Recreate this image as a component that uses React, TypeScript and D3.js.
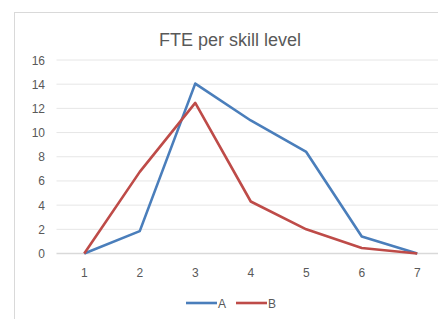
import React, { useEffect, useRef } from 'react';
import * as d3 from 'd3';

const levels = ['1', '2', '3', '4', '5', '6', '7'];
const seriesA = [0, 1.85, 14.05, 11, 8.4, 1.4, 0];
const seriesB = [0, 6.75, 12.45, 4.3, 2.0, 0.45, 0];
const yTicks = [0, 2, 4, 6, 8, 10, 12, 14, 16];
const seriesNames = ['A', 'B'];
const colors = ['#4a7ebb', '#be4b48'];

const W = 438;
const H = 319;

const App = () => {
  const ref = useRef<SVGSVGElement>(null);

  useEffect(() => {
    const svg = d3.select(ref.current);
    svg.selectAll('*').remove();

    const font = '"Liberation Sans", Arial, sans-serif';

    // chart frame (cropped on the right and bottom)
    svg.append('rect')
      .attr('x', 14.5).attr('y', 12.5)
      .attr('width', 500).attr('height', 400)
      .attr('fill', '#fff')
      .attr('stroke', '#d9d9d9');

    svg.append('text')
      .attr('x', 230).attr('y', 46)
      .attr('text-anchor', 'middle')
      .attr('font-family', font)
      .attr('font-size', 18)
      .attr('fill', '#595959')
      .text('FTE per skill level');

    const x = d3.scaleBand().domain(levels).range([56.5, 445]);
    const y = d3.scaleLinear().domain([0, 16]).range([253.5, 60]);

    const grid = svg.append('g');
    grid.selectAll('line')
      .data(yTicks)
      .enter()
      .append('line')
        .attr('x1', 56.5).attr('x2', W)
        .attr('y1', d => y(d)).attr('y2', d => y(d))
        .attr('stroke', d => d === 0 ? '#d9d9d9' : '#e6e6e6')
        .attr('stroke-width', d => d === 0 ? 1.5 : 1);

    svg.append('g').selectAll('text')
      .data(yTicks)
      .enter()
      .append('text')
        .attr('x', 45).attr('y', d => y(d) + 4.5)
        .attr('text-anchor', 'end')
        .attr('font-family', font)
        .attr('font-size', 12)
        .attr('fill', '#595959')
        .text(d => d);

    svg.append('g').selectAll('text')
      .data(levels)
      .enter()
      .append('text')
        .attr('x', d => x(d)! + x.bandwidth() / 2)
        .attr('y', 277)
        .attr('text-anchor', 'middle')
        .attr('font-family', font)
        .attr('font-size', 12)
        .attr('fill', '#595959')
        .text(d => d);

    const line = d3.line<number>()
      .x((d, i) => x(levels[i])! + x.bandwidth() / 2)
      .y(d => y(d));

    svg.selectAll('.line')
      .data([seriesA, seriesB])
      .enter()
      .append('path')
        .attr('class', 'line')
        .attr('fill', 'none')
        .attr('stroke', (d, i) => colors[i])
        .attr('stroke-width', 2.6)
        .attr('stroke-linejoin', 'round')
        .attr('d', d => line(d));

    // legend
    const legend = svg.append('g');
    const lx = [186, 236];
    seriesNames.forEach((name, i) => {
      legend.append('line')
        .attr('x1', lx[i]).attr('x2', lx[i] + 31)
        .attr('y1', 303).attr('y2', 303)
        .attr('stroke', colors[i])
        .attr('stroke-width', 2.6);
      legend.append('text')
        .attr('x', lx[i] + 32).attr('y', 307.5)
        .attr('font-family', font)
        .attr('font-size', 12)
        .attr('fill', '#595959')
        .text(name);
    });
  }, []);

  return (
    <svg ref={ref} width={W} height={H}
      style={{ position: 'absolute', left: 0, top: 0, background: '#fff' }} />
  );
};

export default App;
